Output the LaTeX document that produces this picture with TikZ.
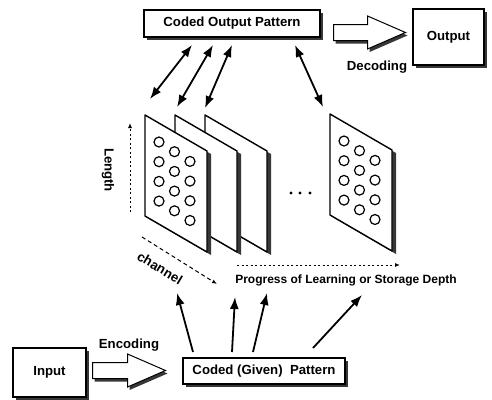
\documentclass[tikz,border=0pt]{standalone}
\usepackage{fontspec}
\setmainfont{Liberation Sans}
\usetikzlibrary{positioning, shadows, arrows.meta, shapes.arrows}
\definecolor{sombra}{RGB}{55,55,55}

\begin{document}
\begin{tikzpicture}[
		x=1pt, y=-1pt,
		caja/.style = {
			rectangle,
			draw,
			line width=1.1pt,
			fill=white,
			inner sep=0pt,
			font=\fontsize{13.2}{16}\selectfont\bfseries,
			general shadow={fill=sombra, shadow xshift=3pt, shadow yshift=-3pt}
		},
		flecha/.style = {
			single arrow,
			draw,
			line width=1pt,
			fill=white,
			single arrow tip angle=47,
			single arrow head extend=8.5pt,
			inner xsep=0pt, inner ysep=7.5pt,
			minimum height=73pt,
			anchor=tail,
			general shadow={fill=sombra, shadow xshift=2pt, shadow yshift=-3pt}
		},
		etiqueta/.style = {inner sep=0pt, font=\fontsize{13.2}{16}\selectfont\bfseries},
		lamina/.style = {
			draw, line width=1.4pt, fill=white, line join=round,
			general shadow={fill=sombra, shadow xshift=4pt, shadow yshift=-3pt}
		},
		doble/.style = {{Latex[length=12pt,width=9pt]}-{Latex[length=12pt,width=9pt]}, line width=1.8pt},
		simple/.style = {-{Latex[length=12pt,width=9pt]}, line width=1.8pt},
		eje/.style = {-{Latex[length=5pt,width=4pt]}, line width=1pt, dash pattern=on 2pt off 2.5pt}
		]
		
		\useasboundingbox (0,0) rectangle (492,399);
		
		% Cajas
		\node[caja, minimum width=176pt, minimum height=27pt] (codout) at (232,23.5) {Coded Output Pattern};
		\node[caja, minimum width=71pt, minimum height=56pt] (output) at (448.5,37) {Output};
		\node[caja, minimum width=73pt, minimum height=49pt] (input) at (49.5,372.5) {Input};
		\node[caja, minimum width=162pt, minimum height=26pt] (codgiven) at (264,371) {Coded (Given)~~Pattern};
		
		% Flechas gruesas
		\node[flecha, minimum height=72pt] (decod) at (333,32.5) {};
		\node[flecha] (encod) at (92,370.5) {};
		\node[etiqueta] (decodtxt) at (377,67) {Decoding};
		\node[etiqueta] (encodtxt) at (129,345) {Encoding};
		
		% Laminas (atras hacia adelante)
		\foreach \px/\py in {205/115, 175/115, 145/115, 330/114}
		\filldraw[lamina] (\px,\py) -- ++(62,36) -- ++(0,101) -- ++(-62,-36) -- cycle;
		\foreach \px/\py in {145/115, 330/114}
		\foreach \j in {0,1,2}
		\foreach \i in {0,...,3}
		\draw[line width=1.2pt] ({\px+14+15.5*\j},{\py+27+19.7*\i+9.7*\j}) circle[radius=5pt];
		
		% Puntos suspensivos
		\foreach \x in {291,300,310}
		\fill (\x,193) circle[radius=1.7pt];
		
		% Ejes
		\coordinate (len0) at (130,212);
		\coordinate (len1) at (130,123);
		\coordinate (ch0) at (142,237);
		\coordinate (ch1) at (217,284);
		\coordinate (pr0) at (237,265);
		\coordinate (pr1) at (400,265);
		\draw[eje] (len0) -- (len1);
		\draw[eje, dash pattern=on 4pt off 3pt] (ch0) -- (ch1);
		\draw[eje] (pr0) -- (pr1);
		\node[etiqueta, rotate=-90] (length) at (108,170) {Length};
		\node[etiqueta, rotate=-31] (channel) at (160,268) {channel};
		\node[inner sep=0pt, font=\fontsize{12}{14}\selectfont\bfseries] (progress) at (346,280) {Progress of Learning or Storage Depth};
		
		% Flechas dobles hacia el patron de salida
		\coordinate (a1) at (192,45);  \coordinate (b1) at (150,99);
		\coordinate (a2) at (213,45);  \coordinate (b2) at (177,107);
		\coordinate (a3) at (232,45);  \coordinate (b3) at (205,108);
		\coordinate (a4) at (295,45);  \coordinate (b4) at (323,107);
		\foreach \k in {1,...,4}
		\draw[doble] (a\k) -- (b\k);
		
		% Flechas desde el patron dado
		\coordinate (c1) at (193,352);  \coordinate (d1) at (177,293);
		\coordinate (c2) at (232,352);  \coordinate (d2) at (235,297);
		\coordinate (c3) at (253,352);  \coordinate (d3) at (267,293);
		\coordinate (c4) at (313,348);  \coordinate (d4) at (362,295);
		\foreach \k in {1,...,4}
		\draw[simple] (c\k) -- (d\k);
		
	\end{tikzpicture}
\end{document}
